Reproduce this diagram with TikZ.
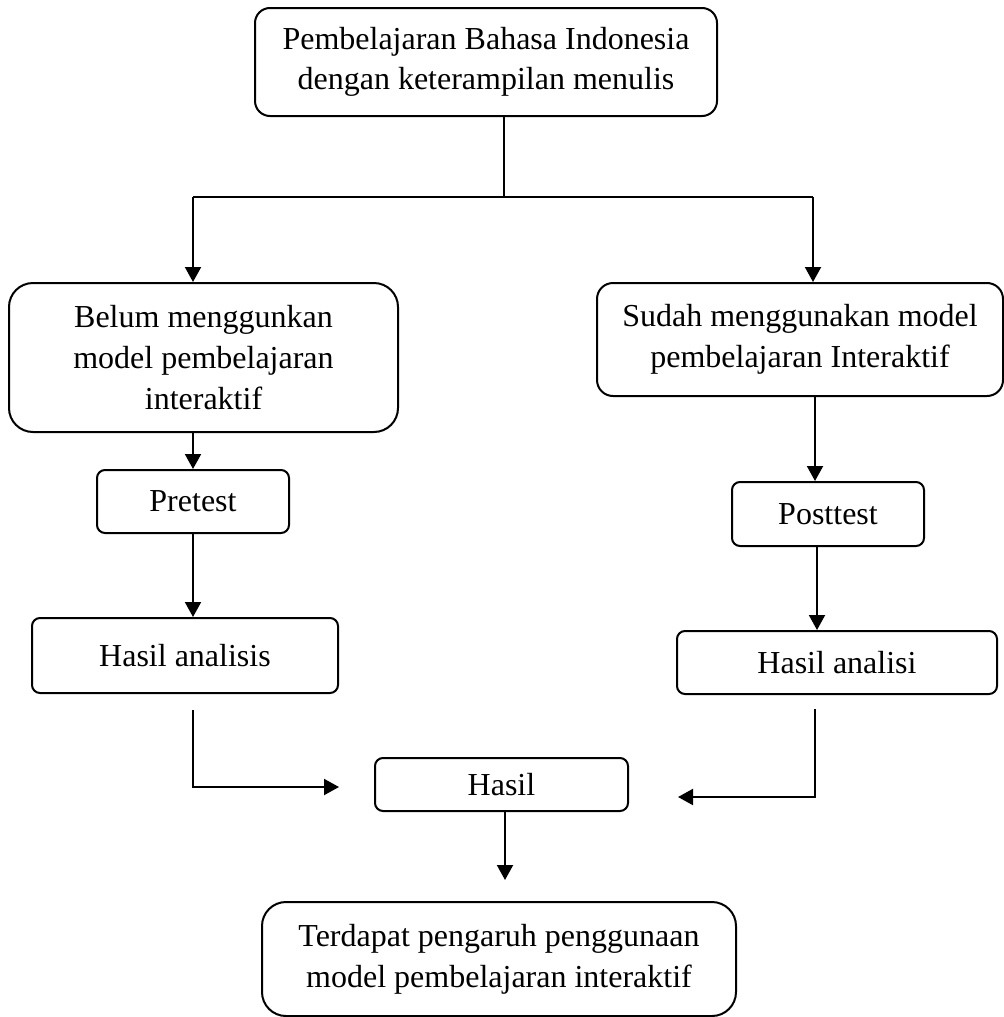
\documentclass[tikz,border=0pt]{standalone}
\usepackage{fontspec}
\setmainfont{Liberation Serif}
\usetikzlibrary{arrows.meta}
\begin{document}
\begin{tikzpicture}[x=0.5pt,y=-0.5pt,
  box/.style={draw, line width=1pt, rounded corners=#1, align=center, inner sep=0pt,
    font=\fontsize{16}{20.5}\selectfont},
  box/.default=4pt,
  conn/.style={line width=1pt},
  arr/.style={conn, -{Triangle[width=8pt,length=7.5pt]}}]
\useasboundingbox (0,0) rectangle (1004,1017);

% boxes
\node[box=7.5pt, minimum width=231pt, minimum height=54pt,
  font=\fontsize{16}{20}\selectfont] (top) at (486,62)
  {Pembelajaran Bahasa Indonesia\\dengan keterampilan menulis};
\node[box=12pt, minimum width=194.5pt, minimum height=74.5pt] (belum) at (203.5,357.5)
  {Belum menggunkan\\model pembelajaran\\interaktif};
\node[box=8pt, minimum width=203pt, minimum height=56.5pt] (sudah) at (800,339.5)
  {Sudah menggunakan model\\pembelajaran Interaktif};
\node[box, minimum width=96pt, minimum height=31.5pt] (pretest) at (193,501.5) {Pretest};
\node[box, minimum width=96pt, minimum height=32pt] (posttest) at (828,514) {Posttest};
\node[box, minimum width=153pt, minimum height=37.5pt] (hasilL) at (185,655.5) {Hasil analisis};
\node[box, minimum width=160pt, minimum height=31.5pt] (hasilR) at (837,662.5) {Hasil analisi};
\node[box, minimum width=126.5pt, minimum height=26.5pt] (hasil) at (501.5,784.5) {\raisebox{-2pt}{Hasil}};
\node[box=12pt, minimum width=237pt, minimum height=57pt] (akhir) at (499,959)
  {Terdapat pengaruh penggunaan\\model pembelajaran interaktif};

% connectors
\coordinate (j) at (504,197);
\coordinate (jl) at (193,197);
\coordinate (jr) at (813,197);
\draw[conn] (top.south -| j) -- (j);
\draw[conn] (jl) -- (jr);
\draw[arr] (jl) -- (jl |- belum.north);
\draw[arr] (jr) -- (jr |- sudah.north);
\draw[arr] (pretest.north |- belum.south) -- (pretest.north);
\draw[arr] (pretest.south) -- (pretest.south |- hasilL.north);
\coordinate (rx) at (815,0);
\draw[arr] (rx |- sudah.south) -- (rx |- posttest.north);
\coordinate (rx2) at (817,0);
\draw[arr] (rx2 |- posttest.south) -- (rx2 |- hasilR.north);

\coordinate (ls) at (193,710);
\coordinate (lc) at (193,787);
\coordinate (le) at (339,787);
\draw[arr] (ls) -- (lc) -- (le);
\coordinate (rs) at (815,709);
\coordinate (rc) at (815,797);
\coordinate (re) at (678,797);
\draw[arr] (rs) -- (rc) -- (re);
\coordinate (he) at (505,880);
\draw[arr] (hasil.south -| he) -- (he);
\end{tikzpicture}
\end{document}
